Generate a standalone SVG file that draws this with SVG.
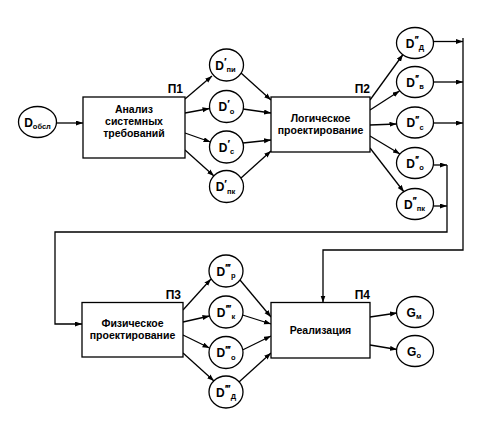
<svg xmlns="http://www.w3.org/2000/svg" width="488" height="425" viewBox="0 0 488 425">
<defs>
<style>
.box{fill:#fff;stroke:#000;stroke-width:1.3}
.nd{fill:#fff;stroke:#000;stroke-width:1.3}
text{font-family:"Liberation Sans",Arial,sans-serif;fill:#000;font-weight:bold}
.lbl{font-size:10.5px;text-anchor:middle}
.tag{font-size:12px;text-anchor:end}
.d{font-size:12px;text-anchor:middle}
.sub{font-size:7.5px;letter-spacing:0}
.pr{font-size:11px;letter-spacing:-1px}
.c{fill:none;stroke:#000;stroke-width:1.3}
.a{marker-end:url(#ah)}
</style>
<marker id="ah" markerUnits="userSpaceOnUse" markerWidth="8" markerHeight="6" refX="7" refY="2.5" orient="auto">
<path d="M0,0 L7,2.5 L0,5 z" fill="#000"/>
</marker>
</defs>
<rect width="488" height="425" fill="#fff"/>

<g id="connectors">
<line class="c a" x1="56.5" y1="123" x2="83" y2="123"/>
<line class="c a" x1="185" y1="99" x2="212" y2="76"/>
<line class="c a" x1="185" y1="113" x2="209.5" y2="108.5"/>
<line class="c a" x1="185" y1="133" x2="210.5" y2="142"/>
<line class="c a" x1="185" y1="150" x2="214" y2="176"/>
<line class="c a" x1="241" y1="73" x2="271" y2="100"/>
<line class="c a" x1="243" y1="109" x2="271" y2="113"/>
<line class="c a" x1="243" y1="143" x2="271" y2="140"/>
<line class="c a" x1="241" y1="178" x2="271" y2="151"/>
<line class="c a" x1="370" y1="100" x2="403" y2="54.5"/>
<line class="c a" x1="370" y1="110" x2="399.5" y2="91"/>
<line class="c a" x1="370" y1="125" x2="396.5" y2="124"/>
<line class="c a" x1="370" y1="136" x2="400" y2="154"/>
<line class="c a" x1="370" y1="148" x2="404" y2="192"/>
<line class="c a" x1="433.5" y1="41.5" x2="463" y2="41.5"/>
<line class="c a" x1="433.5" y1="82" x2="463" y2="82"/>
<line class="c a" x1="433.5" y1="123" x2="463" y2="123"/>
<line class="c a" x1="433.5" y1="165" x2="447" y2="165"/>
<line class="c a" x1="433.5" y1="206" x2="447" y2="206"/>
<path class="c a" d="M463,38 V250 H323 V302.5"/>
<path class="c a" d="M447,165 V232 H55 V324 H82"/>
<line class="c a" x1="183" y1="310" x2="211" y2="279"/>
<line class="c a" x1="183" y1="322" x2="209.5" y2="316"/>
<line class="c a" x1="183" y1="335" x2="209.5" y2="348"/>
<line class="c a" x1="183" y1="353" x2="214" y2="381"/>
<line class="c a" x1="240" y1="280" x2="271" y2="317"/>
<line class="c a" x1="242.5" y1="315" x2="271" y2="324"/>
<line class="c a" x1="242.5" y1="350" x2="271" y2="336"/>
<line class="c a" x1="239" y1="382" x2="271" y2="353"/>
<line class="c a" x1="370" y1="317" x2="397" y2="313"/>
<line class="c a" x1="370" y1="345" x2="397" y2="349.5"/>
</g>

<g id="n-dobsl">
<ellipse class="nd" cx="37.5" cy="122" rx="19" ry="15.5"/>
<text class="d" x="37.5" y="126.5">D<tspan class="sub" dy="2.5">обсл</tspan></text>
</g>

<g id="p1">
<rect class="box" x="83" y="97" width="102" height="61"/>
<text class="lbl" x="134" y="113">Анализ</text>
<text class="lbl" x="134" y="125">системных</text>
<text class="lbl" x="134" y="137">требований</text>
<text class="tag" x="183" y="93">П1</text>
</g>

<g id="n-d1-pi">
<ellipse class="nd" cx="226.5" cy="65" rx="17" ry="16"/>
<text class="d" x="225.5" y="69.5">D<tspan class="pr" dy="-3.5">′</tspan><tspan class="sub" dx="1" dy="6">пи</tspan></text>
</g>
<g id="n-d1-o">
<ellipse class="nd" cx="226.5" cy="106.5" rx="17" ry="16"/>
<text class="d" x="226.5" y="111">D<tspan class="pr" dy="-3.5">′</tspan><tspan class="sub" dx="1" dy="6">о</tspan></text>
</g>
<g id="n-d1-c">
<ellipse class="nd" cx="226.5" cy="147" rx="17" ry="16"/>
<text class="d" x="226.5" y="151.5">D<tspan class="pr" dy="-3.5">′</tspan><tspan class="sub" dx="1" dy="6">с</tspan></text>
</g>
<g id="n-d1-pk">
<ellipse class="nd" cx="226.5" cy="186.5" rx="17" ry="16"/>
<text class="d" x="225.5" y="191">D<tspan class="pr" dy="-3.5">′</tspan><tspan class="sub" dx="1" dy="6">пк</tspan></text>
</g>

<g id="p2">
<rect class="box" x="271" y="97" width="99" height="55"/>
<text class="lbl" x="320.5" y="121.5">Логическое</text>
<text class="lbl" x="320.5" y="133.5">проектирование</text>
<text class="tag" x="370" y="93">П2</text>
</g>

<g id="n-d2-d">
<ellipse class="nd" cx="415" cy="43" rx="18.5" ry="15.5"/>
<text class="d" x="415" y="47.5">D<tspan class="pr" dy="-3.5">′′</tspan><tspan class="sub" dx="1" dy="6">Д</tspan></text>
</g>
<g id="n-d2-v">
<ellipse class="nd" cx="415" cy="82" rx="18.5" ry="15.5"/>
<text class="d" x="415" y="86.5">D<tspan class="pr" dy="-3.5">′′</tspan><tspan class="sub" dx="1" dy="6">в</tspan></text>
</g>
<g id="n-d2-c">
<ellipse class="nd" cx="415" cy="122.5" rx="18.5" ry="15.5"/>
<text class="d" x="415" y="127">D<tspan class="pr" dy="-3.5">′′</tspan><tspan class="sub" dx="1" dy="6">с</tspan></text>
</g>
<g id="n-d2-o">
<ellipse class="nd" cx="415" cy="163" rx="18.5" ry="15.5"/>
<text class="d" x="415" y="167.5">D<tspan class="pr" dy="-3.5">′′</tspan><tspan class="sub" dx="1" dy="6">о</tspan></text>
</g>
<g id="n-d2-pk">
<ellipse class="nd" cx="415" cy="204" rx="18.5" ry="15.5"/>
<text class="d" x="414.5" y="208.5">D<tspan class="pr" dy="-3.5">′′</tspan><tspan class="sub" dx="1" dy="6">пк</tspan></text>
</g>

<g id="p3">
<rect class="box" x="82" y="302.5" width="101" height="54.5"/>
<text class="lbl" x="132.5" y="327">Физическое</text>
<text class="lbl" x="132.5" y="339">проектирование</text>
<text class="tag" x="181" y="298.5">П3</text>
</g>

<g id="n-d3-r">
<ellipse class="nd" cx="226" cy="271" rx="17" ry="16"/>
<text class="d" x="226" y="275.5">D<tspan class="pr" dy="-3.5">′′′</tspan><tspan class="sub" dx="1" dy="6">р</tspan></text>
</g>
<g id="n-d3-k">
<ellipse class="nd" cx="226" cy="312" rx="17" ry="16"/>
<text class="d" x="226" y="316.5">D<tspan class="pr" dy="-3.5">′′′</tspan><tspan class="sub" dx="1" dy="6">к</tspan></text>
</g>
<g id="n-d3-o">
<ellipse class="nd" cx="226" cy="352.5" rx="17" ry="16"/>
<text class="d" x="226" y="357">D<tspan class="pr" dy="-3.5">′′′</tspan><tspan class="sub" dx="1" dy="6">о</tspan></text>
</g>
<g id="n-d3-d">
<ellipse class="nd" cx="226" cy="392" rx="17" ry="16"/>
<text class="d" x="226" y="396.5">D<tspan class="pr" dy="-3.5">′′′</tspan><tspan class="sub" dx="1" dy="6">Д</tspan></text>
</g>

<g id="p4">
<rect class="box" x="271" y="302.5" width="99" height="55.5"/>
<text class="lbl" x="320.5" y="334">Реализация</text>
<text class="tag" x="370" y="298.5">П4</text>
</g>

<g id="n-gm">
<ellipse class="nd" cx="415" cy="312" rx="18.5" ry="15.5"/>
<text class="d" x="414" y="316.5">G<tspan class="sub" dy="2.5">м</tspan></text>
</g>
<g id="n-go">
<ellipse class="nd" cx="415" cy="351" rx="18.5" ry="15.5"/>
<text class="d" x="414" y="355.5">G<tspan class="sub" dy="2.5">о</tspan></text>
</g>
</svg>
